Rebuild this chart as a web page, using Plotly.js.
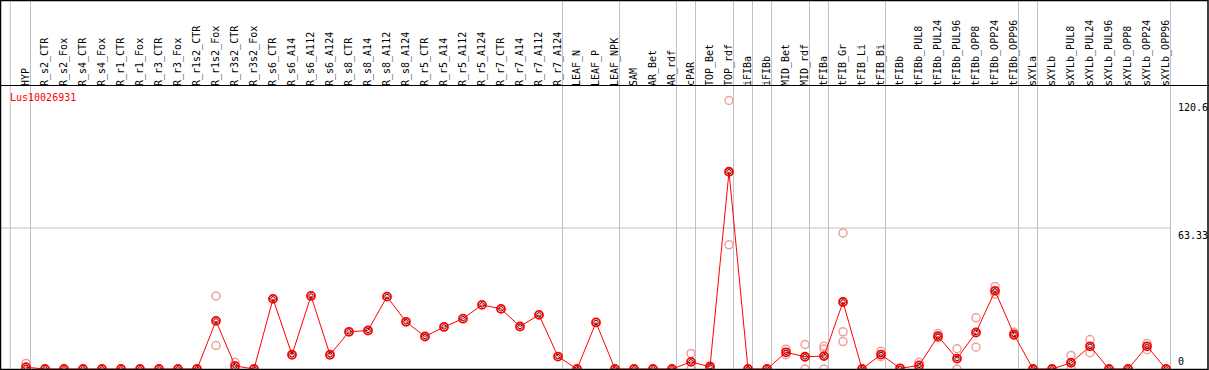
<!DOCTYPE html>
<html>
<head>
<meta charset="utf-8">
<script src="https://cdn.plot.ly/plotly-3.0.1.min.js"></script>
<style>html,body{margin:0;padding:0;background:#fff;}#chart{width:1209px;height:370px;}</style>
</head>
<body>
<div id="chart"></div>
<script>
const geneId = 'Lus10026931';

const categories = ['HYP','R_s2_CTR','R_s2_Fox','R_s4_CTR','R_s4_Fox','R_r1_CTR','R_r1_Fox','R_r3_CTR','R_r3_Fox',
  'R_r1s2_CTR','R_r1s2_Fox','R_r3s2_CTR','R_r3s2_Fox','R_s6_CTR','R_s6_A14','R_s6_A112','R_s6_A124',
  'R_s8_CTR','R_s8_A14','R_s8_A112','R_s8_A124','R_r5_CTR','R_r5_A14','R_r5_A112','R_r5_A124',
  'R_r7_CTR','R_r7_A14','R_r7_A112','R_r7_A124','LEAF_N','LEAF_P','LEAF_NPK','SAM','AR_Bet','AR_rdf',
  'cPAR','TOP_Bet','TOP_rdf','iFIBa','iFIBb','MID_Bet','MID_rdf','tFIBa','tFIB_Gr','tFIB_Li','tFIB_Bi',
  'tFIBb','tFIBb_PUL8','tFIBb_PUL24','tFIBb_PUL96','tFIBb_OPP8','tFIBb_OPP24','tFIBb_OPP96',
  'sXYLa','sXYLb','sXYLb_PUL8','sXYLb_PUL24','sXYLb_PUL96','sXYLb_OPP8','sXYLb_OPP24','sXYLb_OPP96'];

const meanValues = [0.8,0,0,0,0,0,0,0,0,
  0,21.6,1.4,0,31.5,6.4,32.8,6.4,
  16.7,17.3,32.5,21.2,14.6,18.9,22.6,28.8,
  27.0,19.1,24.3,5.6,0,20.9,0,0,0,0,
  3.2,1.0,88.6,0,0,7.5,5.5,5.8,30.1,0,6.5,
  0.3,1.6,14.7,4.7,16.4,35.1,15.5,
  0,0,2.8,10.2,0,0,10.2,0];

const rep1 = [2.5,null,null,null,null,null,null,null,null,
  null,32.8,3.0,null,null,null,null,null,
  null,null,null,null,null,null,null,null,
  null,null,null,null,null,null,null,null,null,null,
  7.0,1.4,120.6,null,null,8.9,11.0,10.2,61.1,null,8.0,
  null,3.0,15.9,9.1,23.0,37.1,16.5,
  null,null,6.1,13.2,null,null,11.4,null];

const rep2 = [0,null,null,null,null,null,null,null,null,
  null,10.5,0,null,null,null,null,null,
  null,null,null,null,null,null,null,null,
  null,null,null,null,null,null,null,null,null,null,
  0,0.6,55.8,null,null,6.4,0,9.0,16.7,null,5.5,
  null,0.2,14.0,0,9.8,33.6,15.0,
  null,null,0,7.3,null,null,8.7,null];

const rep3 = [null,null,null,null,null,null,null,null,null,
  null,null,null,null,null,null,null,null,
  null,null,null,null,null,null,null,null,
  null,null,null,null,null,null,null,null,null,null,
  null,null,null,null,null,null,null,0,12.3,null,null,
  null,null,null,null,null,null,null,
  null,null,null,null,null,null,null,null];

const groupEnds = ['HYP','R_r7_A124','LEAF_NPK','AR_rdf','cPAR','TOP_rdf','iFIBa','iFIBb',
  'MID_rdf','tFIBa','tFIB_Bi','tFIBb_OPP96','sXYLa','sXYLb_OPP96'];

const yTickVals = [0, 63.33, 120.6];
const yTickText = ['0', '63.33', '120.6'];
const gridValue = 63.33;
const yTop = 126.66;

// ---- build ----
const W = 1209, H = 370, T = 87, B = 1;
const plotH = H - T - B;
const idx = categories.map((_, i) => i);
const pxPer = 19, x0px = 26;
const xRange = [-x0px / pxPer, (W - x0px) / pxPer];
const py = p => (H - B - p) / plotH; // pixel row -> paper y
const px = p => p / W;

const repX = [], repY = [];
[rep1, rep2, rep3].forEach(r => r.forEach((v, i) => { if (v !== null) { repX.push(i); repY.push(v); } }));

const font = 'DejaVu Sans Mono, Liberation Mono, monospace';

const traces = [
  { x: repX, y: repY, type: 'scatter', mode: 'markers', cliponaxis: false, hoverinfo: 'skip',
    marker: { symbol: 'circle-open', size: 8, color: '#f0a0a0', line: { width: 1.5, color: '#f0a0a0' } } },
  { x: idx, y: meanValues, type: 'scatter', mode: 'lines+markers', cliponaxis: false,
    line: { color: '#ff0000', width: 1 },
    marker: { symbol: 'circle-open', size: 8, color: '#ff0000', line: { width: 1.8, color: '#ff0000' } } },
  { x: idx, y: meanValues, type: 'scatter', mode: 'markers', cliponaxis: false, hoverinfo: 'skip',
    marker: { symbol: 'circle-open', size: 4.5, color: '#5a0000', line: { width: 1, color: '#5a0000' } } }
];

const shapes = [];
const lineX = groupEnds.map(n => categories.indexOf(n) + 0.237);
lineX.unshift(-0.83);
lineX.forEach(xv => shapes.push({ type: 'line', xref: 'x', yref: 'paper', x0: xv, x1: xv, y0: 0, y1: py(0),
  line: { color: '#c0c0c0', width: 1 }, layer: 'below' }));
shapes.push({ type: 'line', xref: 'x', yref: 'y', x0: xRange[0], x1: lineX[lineX.length - 1], y0: gridValue, y1: gridValue,
  line: { color: '#c0c0c0', width: 1 }, layer: 'below' });
// frame
shapes.push({ type: 'rect', xref: 'paper', yref: 'paper', x0: px(0.5), x1: px(1208), y0: py(369.5), y1: py(0.5),
  line: { color: '#000', width: 1.5 }, fillcolor: 'rgba(0,0,0,0)', layer: 'above' });
shapes.push({ type: 'line', xref: 'paper', yref: 'paper', x0: px(0), x1: px(1209), y0: py(85.5), y1: py(85.5),
  line: { color: '#000', width: 1 }, layer: 'above' });

const annotations = [
  { text: geneId, xref: 'paper', yref: 'paper', x: px(8), y: py(90), xanchor: 'left', yanchor: 'top',
    showarrow: false, font: { family: font, size: 10, color: '#ff0000' } }
];
yTickVals.forEach((v, i) => annotations.push({
  text: yTickText[i], xref: 'paper', yref: 'y', x: px(1176), y: v, xanchor: 'left',
  yanchor: v === 0 ? 'bottom' : 'top', showarrow: false, font: { family: font, size: 10, color: '#000' }
}));

const layout = {
  width: W, height: H,
  margin: { l: 0, r: 0, t: T, b: B, pad: 0 },
  paper_bgcolor: '#fff', plot_bgcolor: '#fff',
  showlegend: false,
  xaxis: { range: xRange, side: 'top', tickmode: 'array', tickvals: idx, ticktext: categories, tickangle: -90,
    tickfont: { family: font, size: 10, color: '#000' }, showgrid: false, zeroline: false, showline: false, ticks: '' },
  yaxis: { range: [0, yTop], showgrid: false, zeroline: false, showline: false, showticklabels: false, ticks: '' },
  shapes: shapes, annotations: annotations
};

Plotly.newPlot('chart', traces, layout, { staticPlot: true, displayModeBar: false });
</script>
</body>
</html>
